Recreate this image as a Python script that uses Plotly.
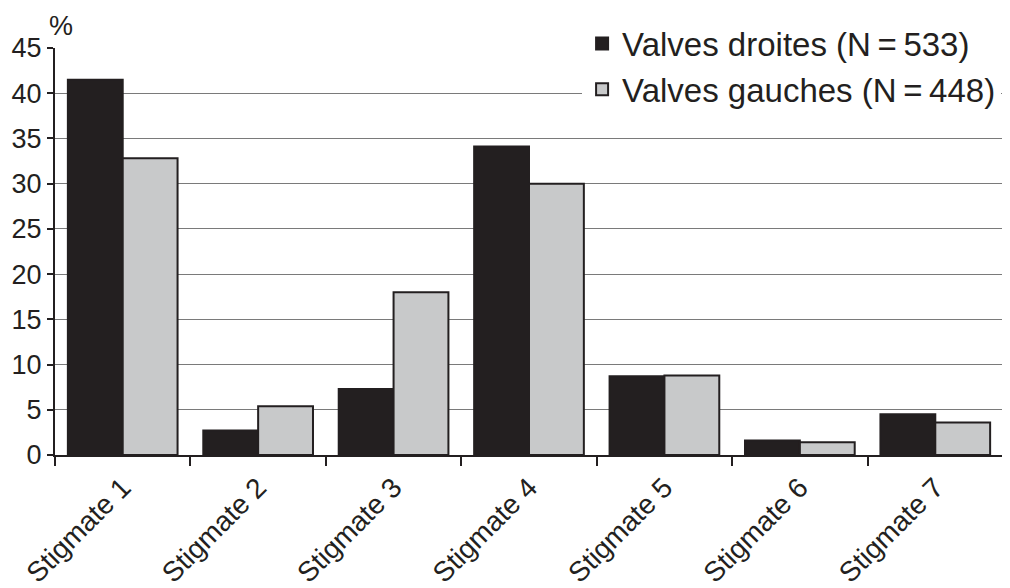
import plotly.graph_objects as go

categories = ["Stigmate 1", "Stigmate 2", "Stigmate 3", "Stigmate 4", "Stigmate 5", "Stigmate 6", "Stigmate 7"]
droites = [41.5, 2.7, 7.3, 34.1, 8.7, 1.6, 4.5]
gauches = [32.8, 5.4, 18.0, 30.0, 8.8, 1.4, 3.6]
name_droites = "Valves droites (N\u2009=\u2009533)"
name_gauches = "Valves gauches (N\u2009=\u2009448)"
y_ticks = [0, 5, 10, 15, 20, 25, 30, 35, 40, 45]

ink = "#231f20"
fig = go.Figure()
fig.add_trace(go.Bar(x=categories, y=droites, name=name_droites,
                     marker=dict(color=ink, line=dict(color=ink, width=2))))
fig.add_trace(go.Bar(x=categories, y=gauches, name=name_gauches,
                     marker=dict(color="#c8c9ca", line=dict(color=ink, width=2))))

# page body has an 8px default margin, so the figure is sized to fit the window
fig.update_layout(
    width=1002, height=580,
    margin=dict(l=47, r=7, t=35, b=133),
    paper_bgcolor="white", plot_bgcolor="white",
    barmode="group", bargap=0.19, bargroupgap=0,
    font=dict(family="Liberation Sans, Arial, sans-serif", color=ink, size=27),
    legend=dict(x=0.556, y=1.08, xanchor="left", yanchor="top",
                bgcolor="white", font=dict(size=33), tracegroupgap=0,
                itemwidth=30),
    showlegend=True,
)
fig.update_xaxes(showline=True, linecolor=ink, linewidth=2, automargin=False,
                 ticks="outside", tickson="boundaries", ticklen=9, tickwidth=1.5, tickcolor=ink,
                 tickangle=-45, tickfont=dict(size=28), showgrid=False,
                 ticklabelstandoff=3)
fig.update_yaxes(range=[0, 45], tickvals=y_ticks, showline=True, linecolor=ink, linewidth=2,
                 automargin=False,
                 ticks="outside", ticklen=6, tickwidth=1.5, tickcolor=ink,
                 showgrid=True, gridcolor="#7a7a7a", gridwidth=1.2,
                 tickfont=dict(size=27), zeroline=False, ticklabelstandoff=0)
fig.add_annotation(text="%", xref="paper", yref="paper", x=0.0, y=1.0,
                   xanchor="left", yanchor="bottom", showarrow=False,
                   font=dict(size=27, color=ink), xshift=-8, yshift=5)
fig.write_html("out.html")
